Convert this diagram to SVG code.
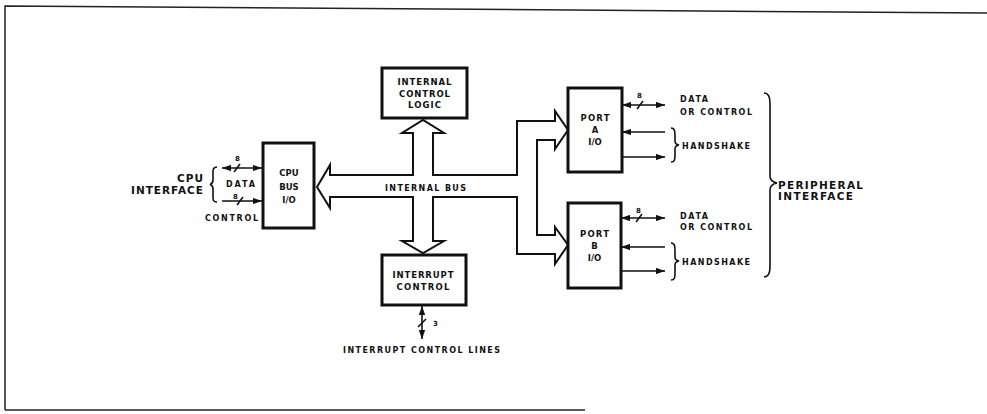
<svg xmlns="http://www.w3.org/2000/svg" width="987" height="414" viewBox="0 0 987 414">
<style>
text{font-family:"DejaVu Sans","Liberation Sans",Arial,sans-serif;font-weight:bold;fill:#111}
.big{font-size:10.5px}
.box{font-size:8.5px;text-anchor:middle}
.sm{font-size:8px}
.num{font-size:7px}
.node{fill:#fff;stroke:#111;stroke-width:3}
.bus{fill:#fff;stroke:#111;stroke-width:2;stroke-linejoin:miter}
.ln{fill:none;stroke:#111;stroke-width:1.6}
.frame{fill:none;stroke:#222;stroke-width:1.5}
</style>
<defs>
<marker id="ah" viewBox="0 0 10 7" refX="10" refY="3.5" markerUnits="userSpaceOnUse" markerWidth="9" markerHeight="6.5" orient="auto-start-reverse">
<path d="M0,0 L10,3.5 L0,7 Z" fill="#111"/>
</marker>
</defs>
<rect width="987" height="414" fill="#fff"/>
<g id="frame">
<path class="frame" d="M5,410 L5,6 L987,13"/>
<path class="frame" d="M5,410 L585,410"/>
</g>
<g id="connectors">
<path id="internal-bus" class="bus" d="M413,197 L413,241 L402,241 L423,253 L444,241 L433,241 L433,197 L517,197 L517,254 L555,254 L555,264 L568,245 L555,227 L555,235 L537,235 L537,140 L555,140 L555,149 L568,130 L555,111 L555,121 L517,121 L517,175 L433,175 L433,133 L444,133 L423,120 L402,133 L413,133 L413,175 L330,175 L330,165 L317,187 L330,208 L330,197 Z"/>
<text x="385" y="191" class="sm" textLength="81" lengthAdjust="spacing">INTERNAL BUS</text>
<path class="ln" d="M222,168 L262,168" marker-start="url(#ah)" marker-end="url(#ah)"/>
<path class="ln" d="M234,172 L240,164"/>
<path class="ln" d="M222,201 L262,201" marker-end="url(#ah)"/>
<path class="ln" d="M237,205 L243,197"/>
<path class="ln" d="M622,105 L665,105" marker-start="url(#ah)" marker-end="url(#ah)"/>
<path class="ln" d="M637,109 L643,101"/>
<path class="ln" d="M665,132 L622,132" marker-end="url(#ah)"/>
<path class="ln" d="M622,157 L665,157" marker-end="url(#ah)"/>
<path class="ln" d="M621,218 L665,218" marker-start="url(#ah)" marker-end="url(#ah)"/>
<path class="ln" d="M636,222 L642,214"/>
<path class="ln" d="M665,247 L621,247" marker-end="url(#ah)"/>
<path class="ln" d="M621,271 L665,271" marker-end="url(#ah)"/>
<path class="ln" d="M422,306 L422,339" marker-start="url(#ah)" marker-end="url(#ah)"/>
<path class="ln" d="M418,327 L426,319"/>
</g>
<g id="cpu-bus-io">
<rect class="node" x="263" y="143" width="51" height="85"/>
<text class="box" x="289" y="176">CPU</text>
<text class="box" x="289" y="190">BUS</text>
<text class="box" x="289" y="203">I/O</text>
</g>
<g id="internal-control-logic">
<rect class="node" x="382" y="68" width="85" height="50"/>
<text class="box" x="424.5" y="85" textLength="54" lengthAdjust="spacing">INTERNAL</text>
<text class="box" x="424.5" y="96.5" textLength="51" lengthAdjust="spacing">CONTROL</text>
<text class="box" x="424.5" y="108" textLength="33" lengthAdjust="spacing">LOGIC</text>
</g>
<g id="interrupt-control">
<rect class="node" x="382" y="255" width="84" height="50"/>
<text class="box" x="423" y="278" textLength="61" lengthAdjust="spacing">INTERRUPT</text>
<text class="box" x="423" y="290" textLength="53" lengthAdjust="spacing">CONTROL</text>
</g>
<g id="port-a-io">
<rect class="node" x="568" y="88" width="54" height="84"/>
<text class="box" x="595" y="121" textLength="29" lengthAdjust="spacing">PORT</text>
<text class="box" x="595" y="133">A</text>
<text class="box" x="595" y="145">I/O</text>
</g>
<g id="port-b-io">
<rect class="node" x="568" y="203" width="53" height="85"/>
<text class="box" x="594.5" y="237" textLength="29" lengthAdjust="spacing">PORT</text>
<text class="box" x="594.5" y="249">B</text>
<text class="box" x="594.5" y="261">I/O</text>
</g>
<g id="cpu-interface">
<text class="big" x="177" y="182" textLength="26" lengthAdjust="spacing">CPU</text>
<text class="big" x="131" y="194" textLength="72" lengthAdjust="spacing">INTERFACE</text>
<path class="ln" d="M217,167 C212,167 213,172 213,176 L213,180 C213,183 212,184 210,184.5 C212,185 213,186 213,189 L213,196 C213,200 213,202 217,202"/>
<text class="num" x="235" y="161">8</text>
<text class="sm" x="226" y="187" textLength="29" lengthAdjust="spacing">DATA</text>
<text class="num" x="233" y="198.5">8</text>
<text class="sm" x="205" y="221" textLength="53" lengthAdjust="spacing">CONTROL</text>
</g>
<g id="port-a-labels">
<text class="num" x="637" y="98">8</text>
<text class="sm" x="680" y="102" textLength="28" lengthAdjust="spacing">DATA</text>
<text class="sm" x="680" y="115" textLength="72" lengthAdjust="spacing">OR CONTROL</text>
<path class="ln" d="M671,128 C675,128 675,132 675,136 L675,141 C675,143 676,144.5 679,145 C676,145.5 675,147 675,149 L675,155 C675,159 675,162 671,162"/>
<text class="sm" x="682" y="148.5" textLength="68" lengthAdjust="spacing">HANDSHAKE</text>
</g>
<g id="port-b-labels">
<text class="num" x="636" y="213">8</text>
<text class="sm" x="680" y="219" textLength="28" lengthAdjust="spacing">DATA</text>
<text class="sm" x="680" y="230" textLength="72" lengthAdjust="spacing">OR CONTROL</text>
<path class="ln" d="M671,243 C675,243 675,247 675,251 L675,257 C675,259 676,260.5 679,261 C676,261.5 675,263 675,265 L675,273 C675,277 675,280 671,280"/>
<text class="sm" x="682" y="264.5" textLength="68" lengthAdjust="spacing">HANDSHAKE</text>
</g>
<g id="peripheral-interface">
<path class="ln" d="M764,93 C769,93 770,97 770,103 L770,176 C770,180 772,182 777,183 C772,184 770,186 770,190 L770,267 C770,273 769,277 764,277"/>
<text class="big" x="778" y="189" textLength="85" lengthAdjust="spacing">PERIPHERAL</text>
<text class="big" x="778" y="200" textLength="75" lengthAdjust="spacing">INTERFACE</text>
</g>
<g id="interrupt-lines">
<text class="num" x="433" y="326">3</text>
<text class="sm" x="343" y="353" textLength="157" lengthAdjust="spacing">INTERRUPT CONTROL LINES</text>
</g>
</svg>
